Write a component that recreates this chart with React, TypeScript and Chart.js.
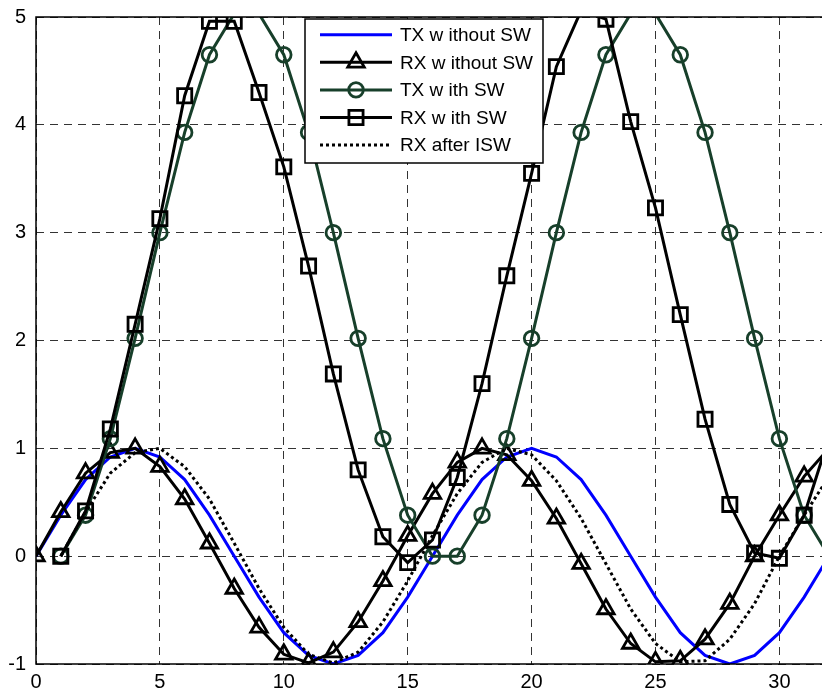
import React, { useEffect, useRef } from "react";
import { Chart, registerables } from "chart.js";

Chart.register(...registerables);

// ---------- data ----------
const sampleIndex = [
  0, 1, 2, 3, 4, 5, 6, 7, 8, 9, 10, 11, 12, 13, 14, 15, 16, 17, 18, 19, 20,
  21, 22, 23, 24, 25, 26, 27, 28, 29, 30, 31, 32,
];

const txWithoutSW = [
  0, 0.38, 0.71, 0.92, 1, 0.92, 0.71, 0.38, 0, -0.38, -0.71, -0.92, -1, -0.92,
  -0.71, -0.38, 0, 0.38, 0.71, 0.92, 1, 0.92, 0.71, 0.38, 0, -0.38, -0.71,
  -0.92, -1, -0.92, -0.71, -0.38, 0,
];

const rxWithoutSW = [
  0, 0.41, 0.77, 0.96, 1.0, 0.83, 0.53, 0.12, -0.3, -0.66, -0.91, -0.99, -0.89,
  -0.61, -0.23, 0.19, 0.58, 0.87, 1.0, 0.94, 0.7, 0.35, -0.07, -0.49, -0.81,
  -0.98, -0.97, -0.77, -0.44, 0.0, 0.38, 0.74, 1.0,
];

const txWithSW = [
  null, 0, 0.38, 1.09, 2.02, 3.0, 3.93, 4.65, 5.03, 5.03, 4.65, 3.93, 3.0,
  2.02, 1.09, 0.38, 0, 0, 0.38, 1.09, 2.02, 3.0, 3.93, 4.65, 5.03, 5.03, 4.65,
  3.93, 3.0, 2.02, 1.09, 0.38, 0,
];

const rxWithSW = [
  null, 0, 0.42, 1.18, 2.15, 3.13, 4.27, 4.96, 4.96, 4.3, 3.61, 2.69, 1.69,
  0.8, 0.18, -0.06, 0.15, 0.73, 1.6, 2.6, 3.55, 4.54, 5.06, 4.98, 4.03, 3.23,
  2.24, 1.27, 0.48, 0.03, -0.02, 0.38, 1.1,
];

const rxAfterISW = [
  null, 0, 0.41, 0.77, 0.96, 1.0, 0.83, 0.53, 0.12, -0.3, -0.66, -0.91, -0.99,
  -0.89, -0.61, -0.23, 0.19, 0.58, 0.87, 1.0, 0.94, 0.7, 0.35, -0.07, -0.49,
  -0.81, -0.98, -0.97, -0.77, -0.44, 0.0, 0.38, 0.74,
];

const seriesLabels = [
  "TX w ithout SW",
  "RX w ithout SW",
  "TX w ith SW",
  "RX w ith SW",
  "RX after ISW",
];

const xTickValues = [0, 5, 10, 15, 20, 25, 30];
const yTickValues = [-1, 0, 1, 2, 3, 4, 5];
const xMin = 0;
const xMax = 31.72;
const yMin = -1;
const yMax = 5;

// ---------- helpers ----------
const FONT = "'Liberation Sans', Arial, Helvetica, sans-serif";

function toPoints(vals: (number | null)[]) {
  return sampleIndex
    .map((x, i) => ({ x, y: vals[i] }))
    .filter((p) => p.y !== null) as { x: number; y: number }[];
}

function markerRadius(r: number) {
  return (ctx: any) =>
    ctx.raw && (ctx.raw.y > yMax || ctx.raw.x > xMax) ? 0 : r;
}

function drawMarker(
  ctx: CanvasRenderingContext2D,
  style: string,
  x: number,
  y: number,
  r: number
) {
  ctx.beginPath();
  if (style === "circle") {
    ctx.arc(x, y, r, 0, Math.PI * 2);
  } else if (style === "rect") {
    const s = Math.SQRT1_2 * r;
    ctx.rect(x - s, y - s, 2 * s, 2 * s);
  } else if (style === "triangle") {
    let a = 0;
    for (let k = 0; k < 3; k++) {
      const px = x + Math.sin(a) * r;
      const py = y - Math.cos(a) * r;
      if (k === 0) ctx.moveTo(px, py);
      else ctx.lineTo(px, py);
      a += (2 * Math.PI) / 3;
    }
    ctx.closePath();
  }
  ctx.stroke();
}

const framePlugin = {
  id: "matlabFrame",
  afterDatasetsDraw(chart: any) {
    const { ctx, chartArea: a } = chart;
    ctx.save();
    ctx.strokeStyle = "#000";
    ctx.lineWidth = 1.5;
    ctx.beginPath();
    ctx.moveTo(a.right + 2, a.top);
    ctx.lineTo(a.left, a.top);
    ctx.lineTo(a.left, a.bottom);
    ctx.lineTo(a.right + 2, a.bottom);
    ctx.stroke();
    ctx.restore();
  },
};

const legendPlugin = {
  id: "matlabLegend",
  afterDraw(chart: any, _args: any, opts: any) {
    const { ctx } = chart;
    const { x, y, width, height, firstRow, rowStep, lineX0, lineX1, textX, fontSize } = opts;
    ctx.save();
    ctx.fillStyle = "#fff";
    ctx.strokeStyle = "#000";
    ctx.lineWidth = 1.5;
    ctx.fillRect(x, y, width, height);
    ctx.strokeRect(x, y, width, height);
    chart.data.datasets.forEach((ds: any, i: number) => {
      const cy = firstRow + i * rowStep;
      ctx.save();
      ctx.strokeStyle = ds.borderColor;
      ctx.lineWidth = ds.borderWidth;
      ctx.setLineDash(ds.borderDash || []);
      ctx.beginPath();
      ctx.moveTo(lineX0, cy);
      ctx.lineTo(lineX1, cy);
      ctx.stroke();
      ctx.setLineDash([]);
      if (ds.legendMarker) {
        ctx.strokeStyle = ds.pointBorderColor;
        ctx.lineWidth = ds.pointBorderWidth;
        drawMarker(ctx, ds.pointStyle, (lineX0 + lineX1) / 2, cy, ds.legendMarker);
      }
      ctx.restore();
      ctx.fillStyle = "#000";
      ctx.font = `${fontSize}px ${FONT}`;
      ctx.textAlign = "left";
      ctx.textBaseline = "middle";
      ctx.fillText(ds.label, textX, cy + 1);
    });
    ctx.restore();
  },
};

export default function App() {
  const canvasRef = useRef<HTMLCanvasElement | null>(null);

  useEffect(() => {
    if (!canvasRef.current) return;
    const green = "#173f2a";
    const chart = new Chart(canvasRef.current, {
      type: "line",
      data: {
        datasets: [
          {
            label: seriesLabels[0],
            data: toPoints(txWithoutSW),
            borderColor: "#0000ff",
            borderWidth: 3,
            pointRadius: 0,
            order: 5,
          },
          {
            label: seriesLabels[1],
            data: toPoints(rxWithoutSW),
            borderColor: "#000",
            borderWidth: 3,
            pointStyle: "triangle",
            pointRadius: markerRadius(9.5),
            pointBorderColor: "#000",
            pointBorderWidth: 2.8,
            pointBackgroundColor: "rgba(0,0,0,0)",
            legendMarker: 9.5,
            order: 4,
          },
          {
            label: seriesLabels[2],
            data: toPoints(txWithSW),
            borderColor: green,
            borderWidth: 3,
            pointStyle: "circle",
            pointRadius: markerRadius(7.3),
            pointBorderColor: green,
            pointBorderWidth: 2.8,
            pointBackgroundColor: "rgba(0,0,0,0)",
            legendMarker: 7.3,
            order: 3,
          },
          {
            label: seriesLabels[3],
            data: toPoints(rxWithSW),
            borderColor: "#000",
            borderWidth: 3,
            pointStyle: "rect",
            pointRadius: markerRadius(10),
            pointBorderColor: "#000",
            pointBorderWidth: 2.8,
            pointBackgroundColor: "rgba(0,0,0,0)",
            legendMarker: 10,
            order: 2,
          },
          {
            label: seriesLabels[4],
            data: toPoints(rxAfterISW),
            borderColor: "#000",
            borderWidth: 3,
            borderDash: [3, 3],
            borderCapStyle: "butt",
            pointRadius: 0,
            order: 1,
          },
        ] as any,
      },
      options: {
        animation: false,
        responsive: false,
        maintainAspectRatio: false,
        events: [],
        layout: { padding: { top: 17, left: 0, right: 0, bottom: 0 }, autoPadding: false } as any,
        elements: { line: { tension: 0, fill: false } },
        plugins: {
          legend: { display: false },
          tooltip: { enabled: false },
          matlabLegend: {
            x: 305,
            y: 19,
            width: 238,
            height: 144,
            firstRow: 34.7,
            rowStep: 27.6,
            lineX0: 320,
            lineX1: 392,
            textX: 400,
            fontSize: 19,
          },
        } as any,
        scales: {
          x: {
            type: "linear",
            min: xMin,
            max: xMax,
            afterBuildTicks: (scale: any) => {
              scale.ticks = xTickValues.map((v) => ({ value: v }));
            },
            afterFit: (scale: any) => {
              scale.height = 27;
              scale.paddingLeft = 0;
              scale.paddingRight = 0;
            },
            grid: { color: "#333", lineWidth: 1, drawTicks: false },
            border: { display: false, dash: [8, 6] },
            ticks: {
              color: "#000",
              padding: 6,
              maxRotation: 0,
              autoSkip: false,
              font: { family: FONT, size: 20 },
            },
          },
          y: {
            type: "linear",
            min: yMin,
            max: yMax,
            afterBuildTicks: (scale: any) => {
              scale.ticks = yTickValues.map((v) => ({ value: v }));
            },
            afterFit: (scale: any) => {
              scale.width = 36;
              scale.paddingTop = 0;
              scale.paddingBottom = 0;
            },
            grid: { color: "#333", lineWidth: 1, drawTicks: false },
            border: { display: false, dash: [8, 6] },
            ticks: {
              color: "#000",
              padding: 10,
              autoSkip: false,
              font: { family: FONT, size: 20 },
            },
          },
        },
      },
      plugins: [framePlugin, legendPlugin],
    });
    return () => chart.destroy();
  }, []);

  return (
    <div
      style={{
        position: "fixed",
        left: 0,
        top: 0,
        width: 822,
        height: 691,
        background: "#fff",
      }}
    >
      <canvas
        ref={canvasRef}
        width={822}
        height={691}
        style={{ display: "block", width: 822, height: 691 }}
      />
    </div>
  );
}
